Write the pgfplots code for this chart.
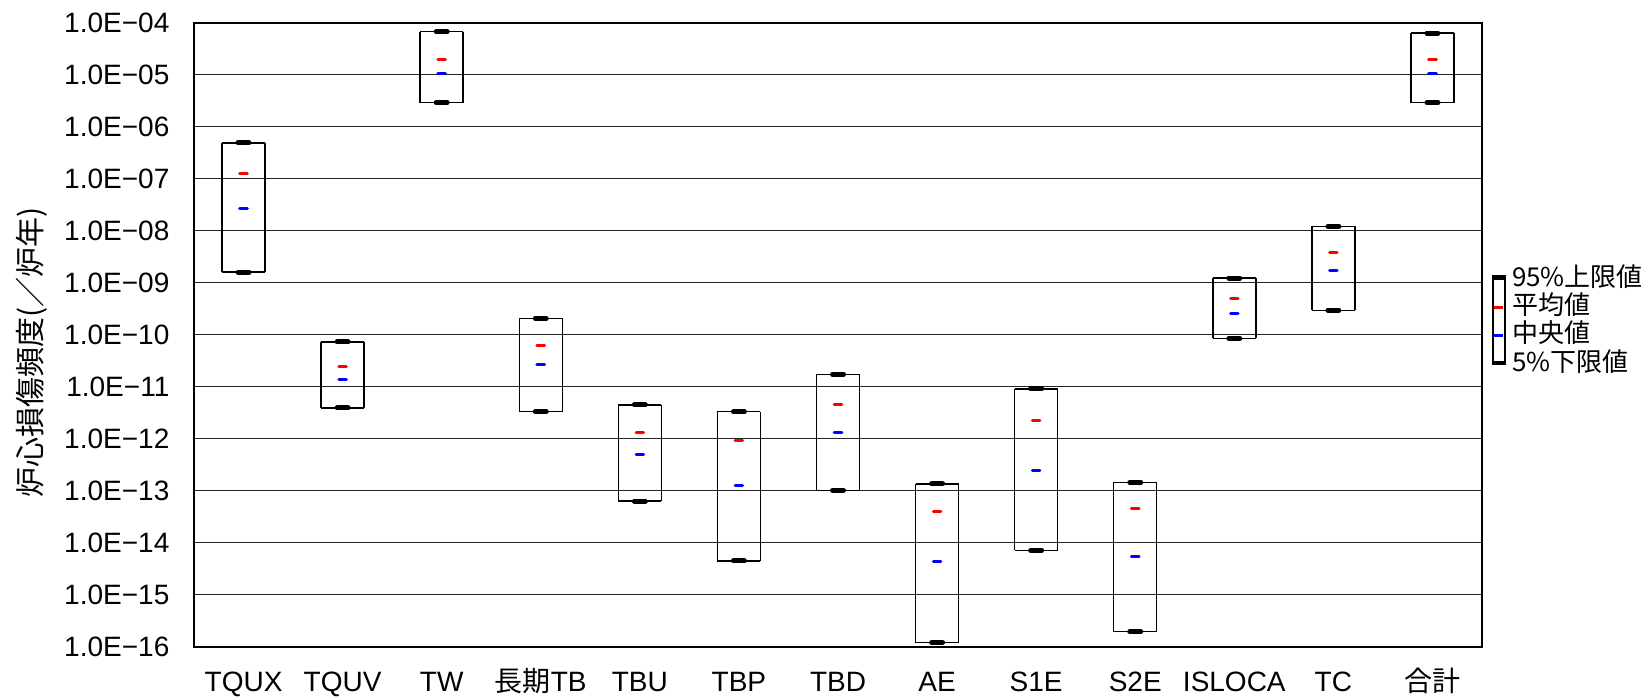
\documentclass[border=0pt]{standalone}
\usepackage{fontspec}
\setmainfont{Liberation Sans}
\newfontfamily\cjk{Noto Sans CJK JP}
\usepackage{pgfplots}
\usepackage{pgfplotstable}
\pgfplotsset{compat=1.18}

% x = category index; lo = 5%下限値, med = 中央値, mean = 平均値, hi = 95%上限値
\pgfplotstableread{
x lo med mean hi
0 1.6e-9 2.65e-8 1.25e-7 4.9e-7
1 3.9e-12 1.4e-11 2.5e-11 7.3e-11
2 2.9e-6 1.05e-5 2.0e-5 6.7e-5
3 3.3e-12 2.7e-11 6.2e-11 2.07e-10
4 6.3e-14 4.9e-13 1.33e-12 4.45e-12
5 4.45e-15 1.25e-13 9.3e-13 3.3e-12
6 1.02e-13 1.33e-12 4.6e-12 1.73e-11
7 1.2e-16 4.3e-15 4.07e-14 1.36e-13
8 7.1e-15 2.4e-13 2.25e-12 9.1e-12
9 1.95e-16 5.5e-15 4.6e-14 1.45e-13
10 8.5e-11 2.54e-10 4.9e-10 1.23e-9
11 2.95e-10 1.68e-9 3.85e-9 1.21e-8
12 2.9e-6 1.05e-5 2.0e-5 6.3e-5
}\data

\begin{document}
\begin{tikzpicture}[x=1pt,y=1pt]
\path[use as bounding box] (0,0) rectangle (822,350);
\begin{axis}[
  at={(97pt,26.65pt)}, anchor=south west,
  width=644pt, height=312pt, scale only axis,
  ymode=log, ymin=1e-16, ymax=1e-4,
  xmin=-0.5, xmax=12.5,
  xtick={0,1,2,3,4,5,6,7,8,9,10,11,12},
  xticklabels={TQUX,TQUV,TW,{\cjk 長期}TB,TBU,TBP,TBD,AE,S1E,S2E,ISLOCA,TC,{\cjk 合計}},
  ytick={1e-16,1e-15,1e-14,1e-13,1e-12,1e-11,1e-10,1e-9,1e-8,1e-7,1e-6,1e-5,1e-4},
  yticklabels={1.0E−16,1.0E−15,1.0E−14,1.0E−13,1.0E−12,1.0E−11,1.0E−10,1.0E−09,1.0E−08,1.0E−07,1.0E−06,1.0E−05,1.0E−04},
  major tick length=0pt, minor tick length=0pt,
  ymajorgrids,
  grid style={black!85, line width=0.6pt},
  axis line style={line width=1pt},
  tick label style={font=\fontsize{14}{16}\selectfont},
  xticklabel style={anchor=base, yshift=-22.5pt},
  yticklabel style={anchor=east, xshift=-8.8pt},
  ylabel={\cjk 炉心損傷頻度(／炉年)},
  ylabel style={at={(axis description cs:-0.126,0.472)}, anchor=center, font=\fontsize{15}{17}\selectfont},
  clip=false,
]
% box sides (from 5% to 95%)
\addplot[draw=none, mark=none, forget plot,
  error bars/.cd, y dir=minus, y explicit, error mark=none,
  error bar style={black, line width=0.75pt}]
  table[x expr=\thisrow{x}-0.217, y=hi, y error minus expr=\thisrow{hi}-\thisrow{lo}] {\data};
\addplot[draw=none, mark=none, forget plot,
  error bars/.cd, y dir=minus, y explicit, error mark=none,
  error bar style={black, line width=0.75pt}]
  table[x expr=\thisrow{x}+0.217, y=hi, y error minus expr=\thisrow{hi}-\thisrow{lo}] {\data};
% box top and bottom edges
\addplot[only marks, mark=-, mark size=10.75pt, mark options={black, line width=0.75pt}, forget plot] table[x=x, y=hi] {\data};
\addplot[only marks, mark=-, mark size=10.75pt, mark options={black, line width=0.75pt}, forget plot] table[x=x, y=lo] {\data};
% thick caps: 95% upper and 5% lower limits
\addplot[only marks, mark=-, mark size=2.75pt, mark options={black, line width=2.5pt, line cap=round}, forget plot] table[x=x, y=hi] {\data};
\addplot[only marks, mark=-, mark size=2.75pt, mark options={black, line width=2.5pt, line cap=round}, forget plot] table[x=x, y=lo] {\data};
% mean (red) and median (blue)
\addplot[only marks, mark=-, mark size=1.9pt, mark options={red, line width=1.5pt, line cap=round}, forget plot] table[x=x, y=mean] {\data};
\addplot[only marks, mark=-, mark size=1.9pt, mark options={blue, line width=1.5pt, line cap=round}, forget plot] table[x=x, y=med] {\data};
\end{axis}
% legend
\draw[black, line width=1pt] (746.35,211.25) rectangle (752.5,168.5);
\draw[black, line width=2.2pt] (745.85,211.25) -- (753,211.25);
\draw[black, line width=2.2pt] (745.85,168.5) -- (753,168.5);
\draw[red, line width=1.3pt] (746.9,196.15) -- (751.4,196.15);
\draw[blue, line width=1.3pt] (746.9,182.35) -- (751.4,182.35);
\begin{scope}[every node/.style={anchor=base west, inner sep=0pt, font=\cjk\fontsize{13}{15}\selectfont}]
\node at (755.8,206.65) {95\%上限値};
\node at (755.8,192.5) {平均値};
\node at (755.8,178.5) {中央値};
\node at (755.8,164.15) {5\%下限値};
\end{scope}
\end{tikzpicture}
\end{document}
